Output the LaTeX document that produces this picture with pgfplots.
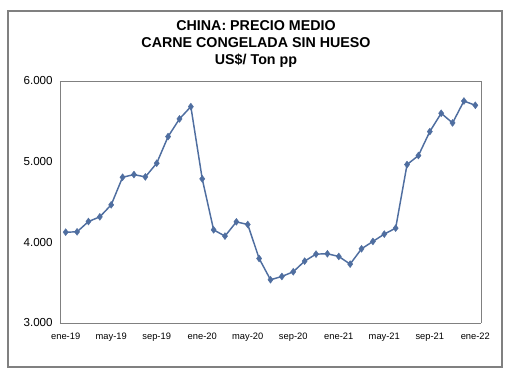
\documentclass[border=0pt]{standalone}
\usepackage{pgfplots}
\pgfplotsset{compat=1.18}
\usepackage{fontspec}
\setmainfont{Liberation Sans}
\definecolor{serie}{RGB}{79,110,160}
\definecolor{axgray}{RGB}{128,128,128}
\begin{document}
\begin{tikzpicture}
\path[fill=white] (0pt,0pt) rectangle (388.5pt,282pt);
\draw[axgray, line width=0.8pt] (6pt,6.75pt) rectangle (376.5pt,273.75pt);
\node[align=center, font=\fontsize{10.7pt}{12.4pt}\selectfont\bfseries] at (192pt,249pt)
 {CHINA: PRECIO MEDIO\\CARNE CONGELADA SIN HUESO\\US\$/ Ton pp};
\begin{axis}[
 at={(45pt,39.75pt)}, anchor=south west,
 scale only axis, width=315.75pt, height=181.5pt,
 xmin=-0.5, xmax=36.5, ymin=3000, ymax=6000,
 axis line style={axgray, line width=0.7pt},
 xtick={0,4,...,36},
 xticklabels={ene-19,may-19,sep-19,ene-20,may-20,sep-20,ene-21,may-21,sep-21,ene-22},
 extra x ticks={1.5,3.5,...,35.5},
 extra x tick labels={},
 extra x tick style={major tick length=3pt, tick style={axgray, line width=0.6pt}, tick align=inside},
 major x tick style={draw=none},
 x tick label style={font=\fontsize{7pt}{8pt}\selectfont, yshift=-4pt},
 ytick={3000,4000,5000,6000},
 yticklabels={3.000,4.000,5.000,6.000},
 major y tick style={draw=none},
 y tick label style={font=\fontsize{8.7pt}{9pt}\selectfont, xshift=-2pt},
 tick align=inside,
 axis x line*=bottom, axis y line*=left,
 clip=false,
]
\draw[axgray, line width=0.7pt] (axis cs:-0.5,6000) -- (axis cs:36.5,6000) -- (axis cs:36.5,3000);
\addplot[color=serie, line width=1.1pt, mark=diamond*, mark size=2.6pt, mark options={fill=serie, draw=serie, line width=0.3pt}]
coordinates {
(0,4126)(1,4130)(2,4258)(3,4316)(4,4465)(5,4807)(6,4840)(7,4811)(8,4981)(9,5311)(10,5530)(11,5682)
(12,4787)(13,4155)(14,4077)(15,4254)(16,4221)(17,3800)(18,3536)(19,3577)(20,3635)(21,3767)(22,3854)(23,3858)
(24,3825)(25,3730)(26,3920)(27,4011)(28,4102)(29,4176)(30,4964)(31,5076)(32,5373)(33,5600)(34,5480)(35,5752)
(36,5699)
};
\end{axis}
\end{tikzpicture}
\end{document}
